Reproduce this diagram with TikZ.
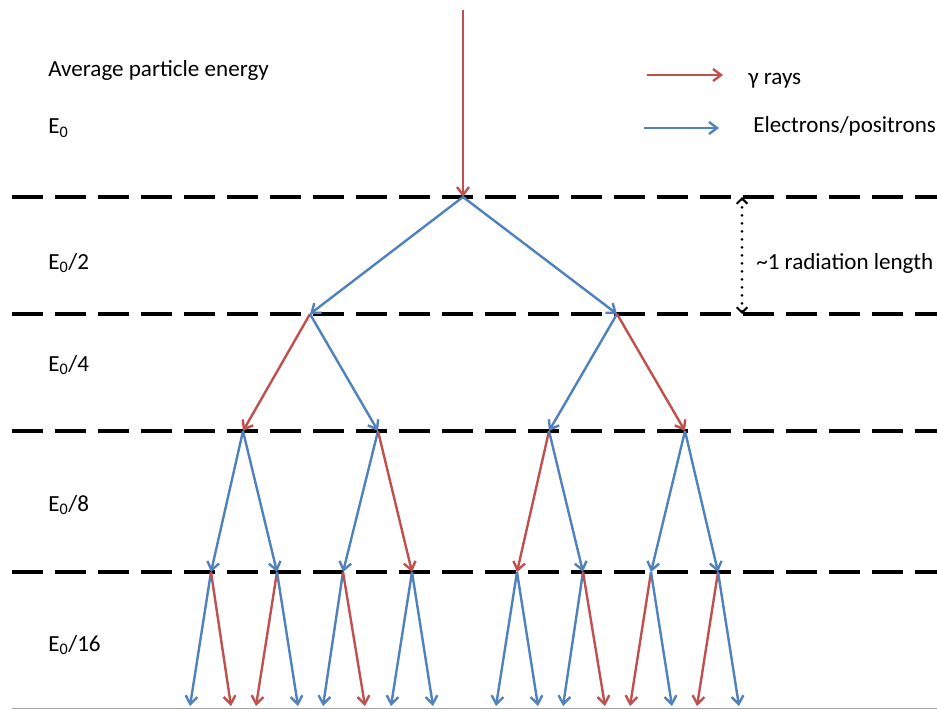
\documentclass[tikz,border=0pt]{standalone}
\usepackage{fontspec}
\setmainfont{Carlito}
\usetikzlibrary{arrows.meta}
\definecolor{gammared}{HTML}{C0504D}
\definecolor{leptonblue}{HTML}{4F81BD}

\begin{document}
\begin{tikzpicture}[
    x=0.75pt, y=-0.75pt,
    gamma/.style={draw=gammared, line width=1.8pt, -{Straight Barb[length=6pt, width=9pt]}},
    lepton/.style={draw=leptonblue, line width=1.8pt, -{Straight Barb[length=6pt, width=9pt]}},
    layer/.style={draw=black, line width=2.4pt, dash pattern=on 23.25pt off 9pt},
    energy/.style={anchor=base west, inner sep=0pt, font=\fontsize{17.3}{20}\selectfont}
]
\useasboundingbox (0,0) rectangle (937,709);

% Radiation length layers
\draw[layer] (12,197) -- (937,197);
\draw[layer] (12,314) -- (937,314);
\draw[layer] (12,431) -- (937,431);
\draw[layer] (12,572) -- (937,572);
\draw[gray!70, line width=0.75pt] (12,708) -- (937,708);

% Energy labels
\node[energy] (title) at (48,77) {Average particle energy};
\node[energy] (e0) at (48,134) {E\textsubscript{0}};
\node[energy] (e2) at (48,269) {E\textsubscript{0}/2};
\node[energy] (e4) at (48,371) {E\textsubscript{0}/4};
\node[energy] (e8) at (48,511) {E\textsubscript{0}/8};
\node[energy] (e16) at (48,651) {E\textsubscript{0}/16};

% Legend
\coordinate (gammaA) at (647,75);
\coordinate (gammaB) at (723,75);
\coordinate (leptonA) at (644,128);
\coordinate (leptonB) at (719,128);
\draw[gamma] (gammaA) -- (gammaB);
\draw[lepton] (leptonA) -- (leptonB);
\node[energy] (gammatxt) at (748,85) {γ rays};
\node[energy] (leptontxt) at (753,133) {Electrons/positrons};

% Radiation length marker
\coordinate (radA) at (742,197);
\coordinate (radB) at (742,314);
\draw[black, line width=2.2pt, line cap=round, dash pattern=on 0pt off 6pt,
      {Straight Barb[length=4pt, width=8pt, line width=1.5pt, line cap=butt]}-{Straight Barb[length=4pt, width=8pt, line width=1.5pt, line cap=butt]}] (radA) -- (radB);
\node[energy] (radtxt) at (756,269) {\textasciitilde 1 radiation length};

% Shower vertices
\coordinate (top) at (463,10);
\coordinate (v0) at (463,197);
\coordinate (v1) at (310,314);
\coordinate (v2) at (617,314);
\coordinate (w1) at (243,431);
\coordinate (w2) at (378,431);
\coordinate (w3) at (549,431);
\coordinate (w4) at (685,431);
\coordinate (u1) at (211,572);
\coordinate (u2) at (277,572);
\coordinate (u3) at (343,572);
\coordinate (u4) at (412,572);
\coordinate (u5) at (517,572);
\coordinate (u6) at (583,572);
\coordinate (u7) at (651,572);
\coordinate (u8) at (718,572);

% Shower ends
\coordinate (s1) at (190,706);
\coordinate (s2) at (231,706);
\coordinate (s3) at (256,706);
\coordinate (s4) at (298,706);
\coordinate (s5) at (323,706);
\coordinate (s6) at (365,706);
\coordinate (s7) at (391,706);
\coordinate (s8) at (433,706);
\coordinate (s9) at (496,706);
\coordinate (s10) at (538,706);
\coordinate (s11) at (563,706);
\coordinate (s12) at (605,706);
\coordinate (s13) at (630,706);
\coordinate (s14) at (672,706);
\coordinate (s15) at (697,706);
\coordinate (s16) at (739,706);

% Incoming photon and first splits
\draw[gamma] (top) -- (v0);
\draw[lepton] (v0) -- (v1);
\draw[lepton] (v0) -- (v2);
\draw[gamma] (v1) -- (w1);
\draw[lepton] (v1) -- (w2);
\draw[lepton] (v2) -- (w3);
\draw[gamma] (v2) -- (w4);

% Third generation
\draw[lepton] (w1) -- (u1);
\draw[lepton] (w1) -- (u2);
\draw[lepton] (w2) -- (u3);
\draw[gamma] (w2) -- (u4);
\draw[gamma] (w3) -- (u5);
\draw[lepton] (w3) -- (u6);
\draw[lepton] (w4) -- (u7);
\draw[lepton] (w4) -- (u8);

% Fourth generation
\draw[lepton] (u1) -- (s1);
\draw[gamma] (u1) -- (s2);
\draw[gamma] (u2) -- (s3);
\draw[lepton] (u2) -- (s4);
\draw[lepton] (u3) -- (s5);
\draw[gamma] (u3) -- (s6);
\draw[lepton] (u4) -- (s7);
\draw[lepton] (u4) -- (s8);
\draw[lepton] (u5) -- (s9);
\draw[lepton] (u5) -- (s10);
\draw[lepton] (u6) -- (s11);
\draw[gamma] (u6) -- (s12);
\draw[gamma] (u7) -- (s13);
\draw[lepton] (u7) -- (s14);
\draw[gamma] (u8) -- (s15);
\draw[lepton] (u8) -- (s16);

\end{tikzpicture}
\end{document}
